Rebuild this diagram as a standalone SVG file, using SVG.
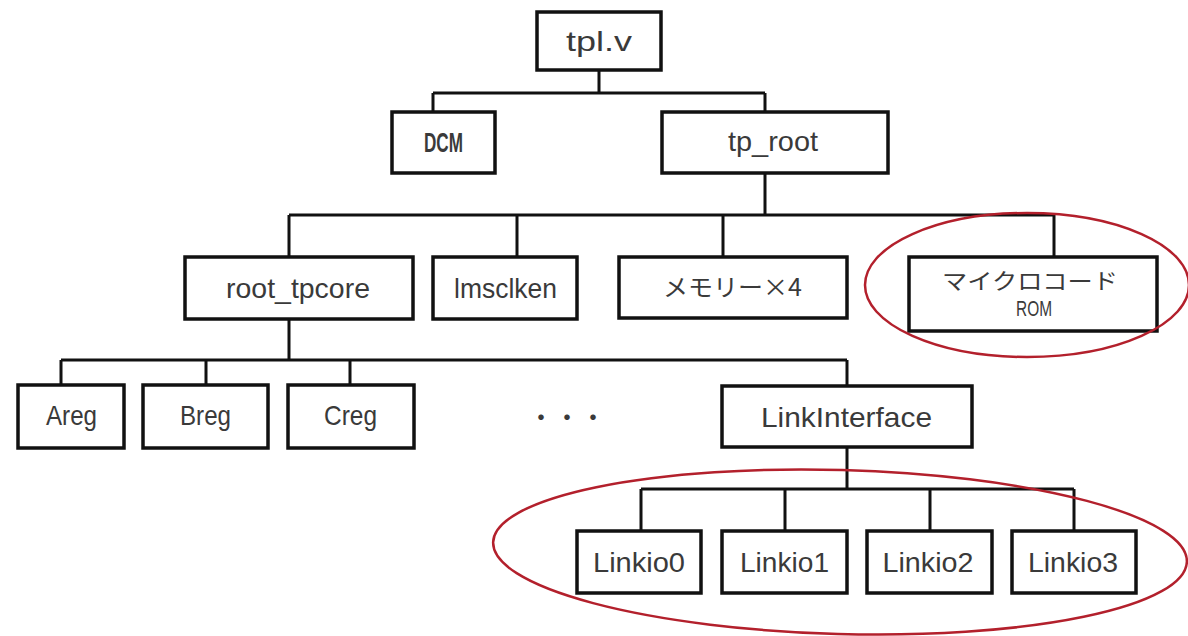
<svg xmlns="http://www.w3.org/2000/svg" width="1188" height="636" viewBox="0 0 1188 636">
<style>
.box{fill:#fff;stroke:#111;stroke-width:3.5}
.ln{fill:none;stroke:#111;stroke-width:3}
.t{font-family:"Liberation Sans","Noto Sans CJK JP",sans-serif;font-size:28px;fill:#3a3a3a;text-anchor:middle}
.j{font-family:"Noto Sans CJK JP","Liberation Sans",sans-serif;font-size:24px;fill:#3a3a3a;text-anchor:middle}
.hl{fill:none;stroke:#b3202c;stroke-width:2.5}
</style>
<rect width="1188" height="636" fill="#fff"/>
<g id="connectors">
<path class="ln" d="M599 70V93M433 93H765M433 93V112M765 93V112"/>
<path class="ln" d="M765 173V215M289 215H1054M289 215V257M517 215V257M723 215V257M1054 215V257"/>
<path class="ln" d="M289 319V360M61 360H847M61 360V385M206 360V385M350 360V385M847 360V386"/>
<path class="ln" d="M847 447V489M641 489H1074M641 489V531M785 489V531M930 489V531M1074 489V531"/>
</g>
<g id="tplv"><rect class="box" x="537" y="12" width="124" height="58"/><text class="t" x="599" y="51" textLength="66" lengthAdjust="spacingAndGlyphs">tpl.v</text></g>
<g id="dcm"><rect class="box" x="392" y="112" width="103" height="61"/><text class="t" x="443.5" y="152" style="font-weight:bold" textLength="39" lengthAdjust="spacingAndGlyphs">DCM</text></g>
<g id="tp_root"><rect class="box" x="662" y="112" width="226" height="61"/><text class="t" x="773" y="151" textLength="90" lengthAdjust="spacingAndGlyphs">tp_root</text></g>
<g id="root_tpcore"><rect class="box" x="185" y="257" width="228" height="62"/><text class="t" x="298" y="298" textLength="144" lengthAdjust="spacingAndGlyphs">root_tpcore</text></g>
<g id="imsclken"><rect class="box" x="433" y="257" width="144" height="62"/><text class="t" x="505.5" y="298" textLength="103" lengthAdjust="spacingAndGlyphs">lmsclken</text></g>
<g id="memory"><rect class="box" x="619" y="257" width="228" height="61"/><text class="j" x="732.5" y="296" textLength="139" lengthAdjust="spacingAndGlyphs">メモリー×4</text></g>
<g id="microcode_rom"><rect class="box" x="909" y="257" width="248" height="74"/><text class="j" x="1030" y="289" style="font-size:22px" textLength="176" lengthAdjust="spacingAndGlyphs">マイクロコード</text><text class="t" x="1034" y="316" style="font-size:22px" textLength="36" lengthAdjust="spacingAndGlyphs">ROM</text></g>
<g id="areg"><rect class="box" x="18" y="385" width="106" height="63"/><text class="t" x="71.5" y="425" textLength="51" lengthAdjust="spacingAndGlyphs">Areg</text></g>
<g id="breg"><rect class="box" x="143" y="385" width="125" height="63"/><text class="t" x="205.5" y="425" textLength="51" lengthAdjust="spacingAndGlyphs">Breg</text></g>
<g id="creg"><rect class="box" x="288" y="385" width="126" height="63"/><text class="t" x="350.5" y="425" textLength="53" lengthAdjust="spacingAndGlyphs">Creg</text></g>
<g id="ellipsis"><text class="j" x="567" y="427" style="font-size:26px">・・・</text></g>
<g id="linkinterface"><rect class="box" x="722" y="386" width="250" height="61"/><text class="t" x="846.5" y="427" textLength="171" lengthAdjust="spacingAndGlyphs">LinkInterface</text></g>
<g id="linkio0"><rect class="box" x="577" y="531" width="124" height="62"/><text class="t" x="639" y="572" textLength="92" lengthAdjust="spacingAndGlyphs">Linkio0</text></g>
<g id="linkio1"><rect class="box" x="722" y="531" width="125" height="62"/><text class="t" x="784.5" y="572" textLength="89" lengthAdjust="spacingAndGlyphs">Linkio1</text></g>
<g id="linkio2"><rect class="box" x="867" y="531" width="125" height="62"/><text class="t" x="928" y="572" textLength="91" lengthAdjust="spacingAndGlyphs">Linkio2</text></g>
<g id="linkio3"><rect class="box" x="1012" y="531" width="124" height="62"/><text class="t" x="1073" y="572" textLength="90" lengthAdjust="spacingAndGlyphs">Linkio3</text></g>
<g id="highlights">
<ellipse class="hl" cx="1027" cy="285" rx="162" ry="72"/>
<ellipse class="hl" cx="840" cy="552" rx="347" ry="82" transform="rotate(1.6 840 552)"/>
</g>
</svg>
